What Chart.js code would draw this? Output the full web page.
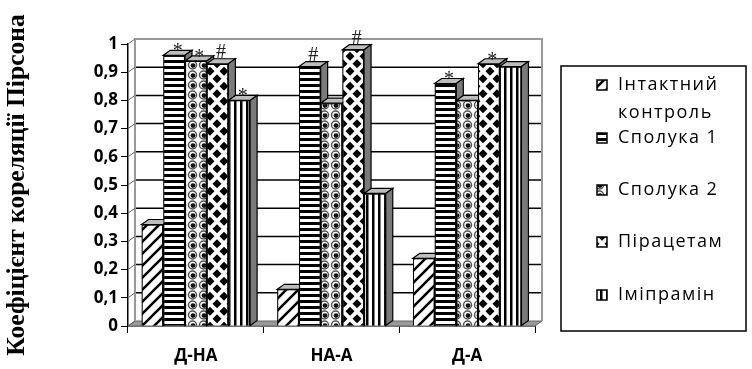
<!DOCTYPE html>
<html>
<head>
<meta charset="utf-8">
<script src="https://cdn.jsdelivr.net/npm/chart.js@4.4.1/dist/chart.umd.min.js"></script>
<style>
  html, body { margin: 0; padding: 0; background: #fff; }
  #wrap { width: 752px; height: 369px; }
</style>
</head>
<body>
<div id="wrap"><canvas id="chart" width="752" height="369"></canvas></div>
<script>
// data
const categories = ['Д-НА', 'НА-А', 'Д-А'];
const seriesNames = [['Інтактний', 'контроль'], ['Сполука 1'], ['Сполука 2'], ['Пірацетам'], ['Іміпрамін']];
const intactValues = [0.36, 0.13, 0.24];
const compound1Values = [0.96, 0.92, 0.86];
const compound2Values = [0.94, 0.79, 0.80];
const piracetamValues = [0.93, 0.98, 0.93];
const imipramineValues = [0.80, 0.47, 0.92];
// significance marks above the bars
const intactMarks = ['', '', ''];
const compound1Marks = ['*', '#', '*'];
const compound2Marks = ['*', '', ''];
const piracetamMarks = ['#', '#', '*'];
const imipramineMarks = ['*', '', ''];

const allValues = [intactValues, compound1Values, compound2Values, piracetamValues, imipramineValues];
const allMarks = [intactMarks, compound1Marks, compound2Marks, piracetamMarks, imipramineMarks];

const canvas = document.getElementById('chart');
const ctx = canvas.getContext('2d');

function makePattern(w, h, paint) {
    const c = document.createElement('canvas');
    c.width = w;
    c.height = h;
    const g = c.getContext('2d');
    g.fillStyle = '#fff';
    g.fillRect(0, 0, w, h);
    g.fillStyle = '#000';
    g.strokeStyle = '#000';
    paint(g, w, h);
    return ctx.createPattern(c, 'repeat');
}

const patterns = [
    // diagonal stripes
    makePattern(12, 12, (g) => {
        g.lineWidth = 2.6;
        [[-12, 12, 12, -12], [0, 12, 12, 0], [0, 24, 24, 0]].forEach(([x1, y1, x2, y2]) => {
            g.beginPath(); g.moveTo(x1, y1); g.lineTo(x2, y2); g.stroke();
        });
    }),
    // horizontal stripes
    makePattern(4, 6, (g) => { g.fillRect(0, 0, 4, 3); }),
    // balls
    makePattern(11, 10, (g) => {
        g.strokeStyle = '#555';
        g.lineWidth = 1.5;
        g.beginPath(); g.arc(5.5, 5, 4, 0, Math.PI * 2); g.stroke();
        g.fillStyle = '#111';
        g.beginPath(); g.arc(6, 5.6, 2.4, 0, Math.PI * 2); g.fill();
    }),
    // diamonds
    makePattern(14, 15, (g) => {
        const dia = (cx, cy) => {
            g.beginPath();
            g.moveTo(cx, cy - 4.5); g.lineTo(cx + 4.5, cy); g.lineTo(cx, cy + 4.5); g.lineTo(cx - 4.5, cy);
            g.closePath(); g.fill();
        };
        dia(7, 3.75); dia(0, 11.25); dia(14, 11.25); dia(7, 18.75); dia(0, -3.75); dia(14, -3.75);
    }),
    // vertical stripes
    makePattern(6, 4, (g) => { g.fillRect(0, 0, 2.5, 4); })
];

const DX = 7, DY = 5;

const wallPlugin = {
    id: 'wall',
    beforeDatasetsDraw(chart) {
        const { left, right, top, bottom } = chart.chartArea;
        const y = chart.scales.y;
        const c = chart.ctx;
        c.save();
        // floor
        c.fillStyle = '#999';
        c.strokeStyle = '#666';
        c.lineWidth = 1;
        c.beginPath();
        c.moveTo(left, bottom); c.lineTo(left + DX, bottom - DY);
        c.lineTo(right + DX, bottom - DY); c.lineTo(right, bottom);
        c.closePath(); c.fill(); c.stroke();
        // back wall grid lines
        c.strokeStyle = '#000';
        c.lineWidth = 1.5;
        for (let v = 1; v <= 9; v++) {
            const py = y.getPixelForValue(v / 10) - DY;
            c.beginPath(); c.moveTo(left + DX, py); c.lineTo(right + DX, py); c.stroke();
        }
        // wall edges
        c.strokeStyle = '#999';
        c.lineWidth = 2;
        c.beginPath();
        c.moveTo(left + DX, bottom - DY); c.lineTo(left + DX, top - DY);
        c.lineTo(right + DX, top - DY); c.lineTo(right + DX, bottom - DY);
        c.stroke();
        c.lineWidth = 1;
        c.strokeStyle = '#666';
        for (let v = 0; v <= 10; v++) {
            const py = y.getPixelForValue(v / 10);
            c.beginPath(); c.moveTo(left, py); c.lineTo(left + DX, py - DY); c.stroke();
        }
        c.restore();
    },
    afterDatasetsDraw(chart) {
        const c = chart.ctx;
        c.save();
        for (let i = 0; i < allValues.length; i++) {
            const meta = chart.getDatasetMeta(i);
            meta.data.forEach((bar, j) => {
                bar.draw(c, chart.chartArea);
                const { x, y, base, width } = bar.getProps(['x', 'y', 'base', 'width'], true);
                const l = x - width / 2, r = x + width / 2;
                c.strokeStyle = '#000';
                c.lineWidth = 1.2;
                c.fillStyle = '#bdbdbd';
                c.beginPath();
                c.moveTo(l, y); c.lineTo(l + DX, y - DY); c.lineTo(r + DX, y - DY); c.lineTo(r, y);
                c.closePath(); c.fill(); c.stroke();
                c.fillStyle = '#7a7a7a';
                c.beginPath();
                c.moveTo(r, y); c.lineTo(r + DX, y - DY); c.lineTo(r + DX, base - DY); c.lineTo(r, base);
                c.closePath(); c.fill(); c.stroke();
                const mark = allMarks[i][j];
                if (mark) {
                    c.fillStyle = '#222';
                    c.font = '20px "Liberation Serif"';
                    c.textAlign = 'center';
                    c.textBaseline = 'alphabetic';
                    c.fillText(mark, x + DX / 2, y - DY - 1 + (mark === '*' ? 8 : 0));
                }
            });
        }
        c.restore();
    }
};

const legendPlugin = {
    id: 'boxLegend',
    afterDraw(chart) {
        const c = chart.ctx;
        c.save();
        c.strokeStyle = '#000';
        c.lineWidth = 1.5;
        c.strokeRect(561, 66, 185, 265);
        const rows = [85, 138, 190, 242, 295];
        c.font = '18px "Open Sans"';
        c.letterSpacing = '1.5px';
        c.textBaseline = 'middle';
        c.textAlign = 'left';
        seriesNames.forEach((name, i) => {
            const cy = rows[i];
            c.fillStyle = patterns[i];
            c.fillRect(597, cy - 5, 10, 10);
            c.strokeStyle = '#000';
            c.lineWidth = 1.5;
            c.strokeRect(597, cy - 5, 10, 10);
            c.fillStyle = '#000';
            name.forEach((line, k) => c.fillText(line, 618, cy + k * 28));
        });
        c.restore();
    }
};

const fmt = (v) => String(Math.round(v * 10) / 10).replace('.', ',');

new Chart(ctx, {
    type: 'bar',
    data: {
        labels: categories,
        datasets: allValues.map((vals, i) => ({
            label: seriesNames[i].join(' '),
            data: vals,
            backgroundColor: patterns[i],
            borderColor: '#000',
            borderWidth: 1.2,
            categoryPercentage: 0.8,
            barPercentage: 1
        }))
    },
    options: {
        responsive: false,
        animation: false,
        layout: { padding: { top: 44, right: 217, bottom: 0, left: 0 } },
        plugins: {
            legend: { display: false },
            tooltip: { enabled: false }
        },
        scales: {
            x: {
                offset: true,
                grid: { offset: true, drawOnChartArea: false, color: '#000', tickLength: 7 },
                border: { color: '#000', width: 1.5 },
                ticks: { color: '#000', padding: 13, font: { family: 'Open Sans', weight: 'bold', size: 17 } },
                afterFit(scale) { scale.height = 43; }
            },
            y: {
                min: 0,
                max: 1,
                grid: { drawOnChartArea: false, color: '#000', tickLength: 7 },
                border: { color: '#000', width: 1.5 },
                ticks: {
                    stepSize: 0.1,
                    color: '#000',
                    padding: 3,
                    font: { family: 'Open Sans', weight: 'bold', size: 17 },
                    callback: (v) => fmt(v)
                },
                title: {
                    display: true,
                    text: 'Коефіцієнт кореляції Пірсона',
                    color: '#000',
                    padding: { top: 2, bottom: 0 },
                    font: { family: 'Liberation Serif', weight: 'bold', size: 25.5 }
                },
                afterFit(scale) { scale.width = 128; }
            }
        }
    },
    plugins: [wallPlugin, legendPlugin]
});
</script>
</body>
</html>
